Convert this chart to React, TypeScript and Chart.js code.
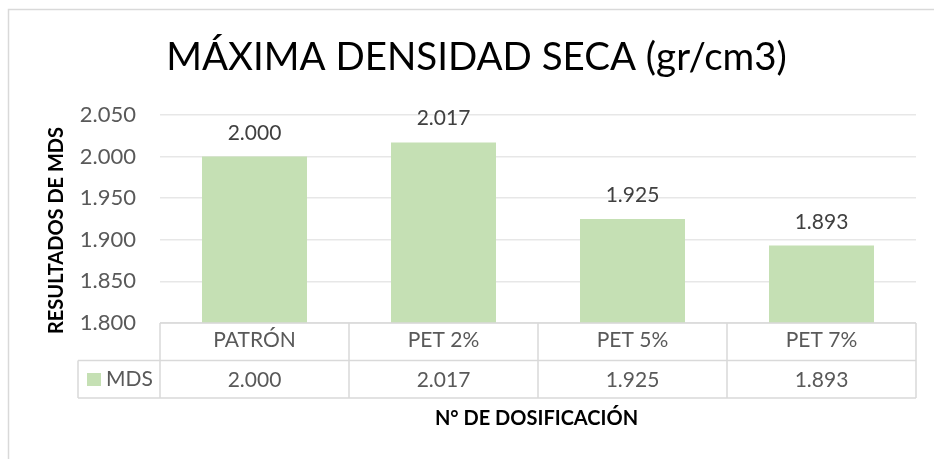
import React, { useEffect, useRef } from "react";
import { Chart, registerables } from "chart.js";

Chart.register(...registerables);

// ---- data ----
const categories = ["PATRÓN", "PET 2%", "PET 5%", "PET 7%"];
const mdsValues = [2.0, 2.017, 1.925, 1.893];
const yTickValues = [1.8, 1.85, 1.9, 1.95, 2.0, 2.05];
const seriesName = "MDS";
const chartTitle = "MÁXIMA DENSIDAD SECA (gr/cm3)";
const yAxisTitle = "RESULTADOS DE MDS";
const xAxisTitle = "N° DE DOSIFICACIÓN";

// ---- style ----
const FONT = "Lato, 'Open Sans', sans-serif";
const BAR_COLOR = "#C5E0B4";
const GRID_COLOR = "#E7E7E7";
const TABLE_COLOR = "#D9D9D9";
const TEXT_GRAY = "#595959";
const LABEL_GRAY = "#404040";

const fmt = (v: number) => v.toFixed(3);

const decorPlugin = {
  id: "decor",
  beforeDraw(chart: any) {
    const ctx = chart.ctx;
    ctx.save();
    ctx.fillStyle = "#ffffff";
    ctx.fillRect(0, 0, chart.width, chart.height);
    ctx.strokeStyle = "#D9D9D9";
    ctx.lineWidth = 1.5;
    ctx.strokeRect(8.5, 9.5, chart.width + 20, chart.height + 20);
    ctx.restore();
  },
  afterDraw(chart: any) {
    const ctx = chart.ctx;
    const { left, right, bottom } = chart.chartArea;
    const xs = chart.scales.x;
    const rowH = 37.5;
    const r1 = bottom + rowH;
    const r2 = bottom + rowH * 2;
    const legendLeft = 78;
    ctx.save();

    // table grid
    ctx.strokeStyle = TABLE_COLOR;
    ctx.lineWidth = 1.5;
    const line = (x1: number, y1: number, x2: number, y2: number) => {
      ctx.beginPath();
      ctx.moveTo(x1, y1);
      ctx.lineTo(x2, y2);
      ctx.stroke();
    };
    line(left, bottom, right, bottom);
    line(legendLeft, r1, right, r1);
    line(legendLeft, r2, right, r2);
    line(legendLeft, r1, legendLeft, r2);
    const n = categories.length;
    const bounds: number[] = [left];
    for (let i = 1; i < n; i++) {
      bounds.push((xs.getPixelForValue(i - 1) + xs.getPixelForValue(i)) / 2);
    }
    bounds.push(right);
    bounds.forEach((bx) => line(bx, bottom, bx, r2));

    // legend key + series name
    ctx.fillStyle = BAR_COLOR;
    ctx.fillRect(87, 373, 14, 13);
    ctx.fillStyle = TEXT_GRAY;
    ctx.font = `21px ${FONT}`;
    ctx.textAlign = "left";
    ctx.textBaseline = "alphabetic";
    ctx.fillText(seriesName, 106, 386);

    // values row
    ctx.textAlign = "center";
    mdsValues.forEach((v, i) => {
      ctx.fillText(fmt(v), xs.getPixelForValue(i), 387);
    });

    // data labels over bars
    const meta = chart.getDatasetMeta(0);
    ctx.fillStyle = LABEL_GRAY;
    meta.data.forEach((bar: any, i: number) => {
      ctx.fillText(fmt(mdsValues[i]), bar.x, bar.y - 17);
    });

    // chart title
    ctx.fillStyle = "#000000";
    ctx.font = `38.5px ${FONT}`;
    ctx.fillText(chartTitle, 476.5, 70);

    // x axis title
    ctx.font = `bold 20px ${FONT}`;
    ctx.fillText(xAxisTitle, 536.5, 425);

    // y axis title
    ctx.save();
    ctx.translate(57, 230.5);
    ctx.rotate(-Math.PI / 2);
    ctx.textBaseline = "middle";
    ctx.font = `bold 20px ${FONT}`;
    ctx.fillText(yAxisTitle, 0, 0);
    ctx.restore();

    ctx.restore();
  },
};

export default function App() {
  const canvasRef = useRef<HTMLCanvasElement | null>(null);

  useEffect(() => {
    if (!canvasRef.current) return;
    const chart = new Chart(canvasRef.current, {
      type: "bar",
      data: {
        labels: categories,
        datasets: [
          {
            label: seriesName,
            data: mdsValues,
            backgroundColor: BAR_COLOR,
            borderWidth: 0,
            categoryPercentage: 1,
            barPercentage: 1 / 1.8,
          },
        ],
      },
      options: {
        responsive: false,
        animation: false,
        devicePixelRatio: 1,
        layout: { padding: { left: 0, right: 18, top: 115, bottom: 0 } },
        plugins: {
          legend: { display: false },
          title: { display: false },
          tooltip: { enabled: false },
        },
        scales: {
          x: {
            grid: { display: false, drawTicks: false },
            border: { display: false },
            ticks: {
              color: TEXT_GRAY,
              font: { family: FONT, size: 21 },
              padding: 5,
              maxRotation: 0,
              autoSkip: false,
            },
            afterFit: (s: any) => {
              s.height = 136;
            },
          },
          y: {
            min: 1.8,
            max: 2.05,
            grid: { color: GRID_COLOR, lineWidth: 1.5, drawTicks: false },
            border: { display: false },
            ticks: {
              color: TEXT_GRAY,
              font: { family: FONT, size: 22 },
              padding: 24,
              callback: (v: any) => fmt(Number(v)),
            },
            afterBuildTicks: (s: any) => {
              s.ticks = yTickValues.map((v) => ({ value: v }));
            },
            afterFit: (s: any) => {
              s.width = 160;
            },
          },
        },
      },
      plugins: [decorPlugin],
    });
    return () => chart.destroy();
  }, []);

  return (
    <div style={{ position: "absolute", left: 0, top: 0, width: 934, height: 459, background: "#fff" }}>
      <canvas ref={canvasRef} width={934} height={459} style={{ display: "block" }} />
    </div>
  );
}
